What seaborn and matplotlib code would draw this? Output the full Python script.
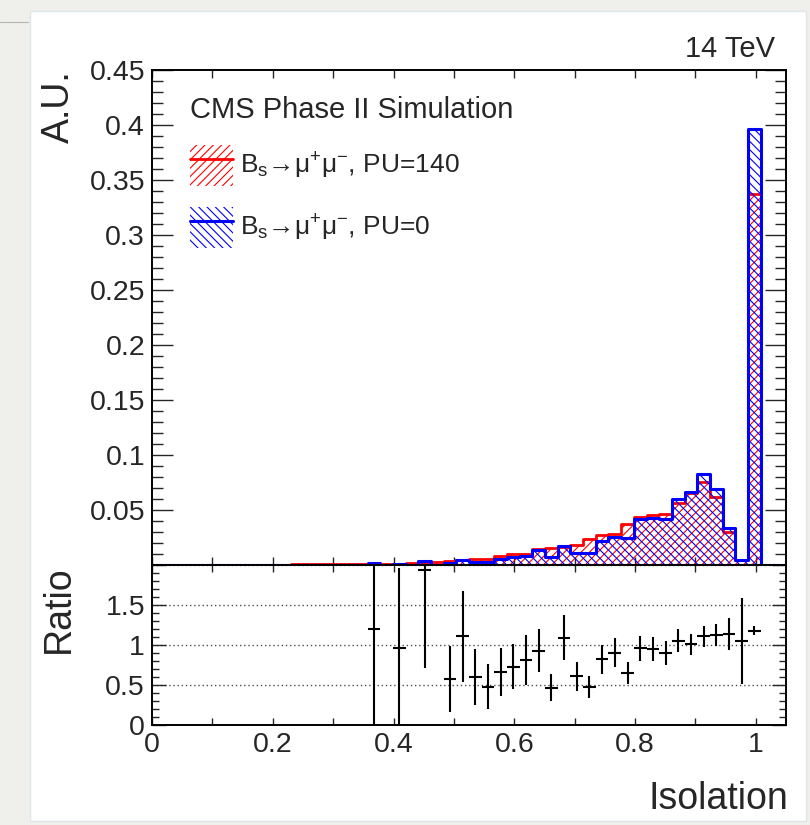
import numpy as np
import pandas as pd
import matplotlib
matplotlib.use("Agg")
import matplotlib.pyplot as plt
import seaborn as sns
from matplotlib.patches import Patch, Rectangle
from matplotlib.lines import Line2D
from matplotlib.legend_handler import HandlerTuple
from matplotlib.ticker import MultipleLocator, FuncFormatter

# ---------------- data ----------------
iso_min, iso_max, n_bins = 0.0, 1.05, 50          # 50 bins of 0.021 in Isolation

# PU = 140 (red), normalised (A.U.)
pu140 = [0.0001, 0.0001, 0.0001, 0.0002, 0.0002,
         0.0003, 0.0004, 0.0003, 0.0003, 0.0004,
         0.0004, 0.0005, 0.0006, 0.0006, 0.0007,
         0.0007, 0.0008, 0.0012, 0.0009, 0.0012,
         0.0015, 0.0017, 0.0027, 0.0037, 0.0043,
         0.0052, 0.0058, 0.0079, 0.0097, 0.0097,
         0.0143, 0.0155, 0.0162, 0.0186, 0.0240,
         0.0271, 0.0286, 0.0377, 0.0438, 0.0454,
         0.0460, 0.0566, 0.0656, 0.0758, 0.0620,
         0.0300, 0.0041, 0.3377, 0.0, 0.0]

# PU = 0 (blue)
pu0 = [0.0, 0.0, 0.0, 0.0, 0.0,
       0.0, 0.0, 0.0, 0.0, 0.0,
       0.0, 0.0, 0.0, 0.0, 0.0,
       0.0, 0.0, 0.0015, 0.0, 0.0011,
       0.0, 0.0033, 0.0, 0.0022, 0.0047,
       0.0031, 0.0028, 0.0053, 0.0071, 0.0079,
       0.0133, 0.0073, 0.0175, 0.0113, 0.0113,
       0.0222, 0.0255, 0.0248, 0.0415, 0.0425,
       0.0415, 0.0597, 0.0660, 0.0830, 0.0695,
       0.0340, 0.0043, 0.3964, 0.0, 0.0]

# ratio panel (PU0 / PU140): bin index, value, error
ratio_bins = [17, 19, 21, 23, 24, 25, 26, 27, 28, 29, 30, 31, 32, 33,
              34, 35, 36, 37, 38, 39, 40, 41, 42, 43, 44, 45, 46, 47]
ratio_vals = [1.205, 0.966, 1.94, 0.573, 1.107, 0.594, 0.479, 0.667, 0.731,
              0.816, 0.927, 0.466, 1.09, 0.607, 0.474, 0.82, 0.906, 0.65,
              0.957, 0.944, 0.906, 1.056, 1.009, 1.107, 1.128, 1.141, 1.051,
              1.179]
ratio_errs = [1.30, 1.00, 1.23, 0.41, 0.57, 0.35, 0.28, 0.30, 0.28,
              0.31, 0.27, 0.17, 0.28, 0.18, 0.14, 0.18, 0.18, 0.14,
              0.16, 0.15, 0.15, 0.14, 0.13, 0.13, 0.14, 0.20, 0.54,
              0.06]

labels = [r"B$_{\mathregular{s}}$→μ$^{\mathregular{+}}$μ$^{\mathregular{-}}$, PU=140",
          r"B$_{\mathregular{s}}$→μ$^{\mathregular{+}}$μ$^{\mathregular{-}}$, PU=0"]

# ---------------- style ----------------
sns.set_theme(style="ticks")
plt.rcParams.update({
    "font.family": ["Liberation Sans", "DejaVu Sans"],
    "mathtext.fontset": "custom",
    "mathtext.rm": "Liberation Sans",
    "mathtext.it": "Liberation Sans:italic",
    "hatch.linewidth": 0.8,
    "axes.linewidth": 1.4,
    "axes.edgecolor": "black",
})

HATCH_RED = "////"
HATCH_BLUE = "\\\\\\\\"

W, H = 810, 825
fig = plt.figure(figsize=(W / 100, H / 100), dpi=100)
fig.patch.set_facecolor("#efefec")
fig.patches.append(Rectangle((30 / W, 4 / H), 776 / W, 810 / H, transform=fig.transFigure,
                             facecolor="white", edgecolor="#dfe5e8", lw=1, zorder=-10))
fig.lines.append(Line2D([0, 28 / W], [1 - 22 / H, 1 - 22 / H], transform=fig.transFigure,
                        color="#b5b5b0", lw=0.8))

ax = fig.add_axes([152 / W, 1 - 565 / H, 634 / W, 495 / H])
ax2 = fig.add_axes([152 / W, 1 - 725 / H, 634 / W, 160 / H], sharex=ax)
for a in (ax, ax2):
    a.set_facecolor("white")

bin_edges = np.linspace(iso_min, iso_max, n_bins + 1)
centers = 0.5 * (bin_edges[:-1] + bin_edges[1:])
width = bin_edges[1] - bin_edges[0]
df = pd.DataFrame({"iso": centers, "pu140": pu140, "pu0": pu0})

# ---------------- histograms ----------------
sns.histplot(data=df, x="iso", weights="pu140", bins=n_bins, binrange=(iso_min, iso_max),
             element="step", fill=True, color="red", facecolor="none",
             edgecolor="red", hatch=HATCH_RED, linewidth=2.0, ax=ax)
sns.histplot(data=df, x="iso", weights="pu0", bins=n_bins, binrange=(iso_min, iso_max),
             element="step", fill=True, color="blue", facecolor="none",
             edgecolor="blue", hatch=HATCH_BLUE, linewidth=2.2, ax=ax)

ax.set_xlim(iso_min, iso_max)
ax.set_ylim(0, 0.45)
ax.set_xlabel("")
ax.set_ylabel("A.U.", loc="top", fontsize=27)
ax.yaxis.set_label_coords(-0.118, 1.0)

fmt = FuncFormatter(lambda v, p: f"{v:g}")
ax.yaxis.set_major_locator(MultipleLocator(0.05))
ax.yaxis.set_minor_locator(MultipleLocator(0.01))
ax.yaxis.set_major_formatter(FuncFormatter(lambda v, p: "" if v < 1e-6 else f"{v:g}"))
ax.xaxis.set_major_locator(MultipleLocator(0.2))
ax.xaxis.set_minor_locator(MultipleLocator(0.1))
ax.tick_params(axis="x", which="both", direction="in", top=True, bottom=True,
               length=6, width=1, labelbottom=False)
ax.tick_params(axis="y", which="major", direction="in", left=True, right=True,
               length=15, width=1, labelsize=20.5, pad=5)
ax.tick_params(axis="y", which="minor", direction="in", left=True, right=True,
               length=8, width=1)

# texts
ax.text(0.0599, 0.9024, "CMS Phase II Simulation", transform=ax.transAxes,
        ha="left", va="baseline", fontsize=21)
fig.text(775 / W, 1 - 57 / H, "14 TeV", ha="right", va="baseline", fontsize=21)

# legend
h_red = (Patch(facecolor="none", edgecolor="red", hatch=HATCH_RED, linewidth=0),
         Line2D([], [], color="red", lw=2.0))
h_blue = (Patch(facecolor="none", edgecolor="blue", hatch=HATCH_BLUE, linewidth=0),
          Line2D([], [], color="blue", lw=2.2))
ax.legend([h_red, h_blue], labels, handler_map={tuple: HandlerTuple(ndivide=1)},
          loc="upper left", bbox_to_anchor=(0.0599, 0.8485), frameon=False,
          borderpad=0, borderaxespad=0, fontsize=19, handlelength=1.63,
          handleheight=2.0, labelspacing=0.8, handletextpad=0.25)

# ---------------- ratio panel ----------------
rx = centers[ratio_bins]
ax2.errorbar(rx, ratio_vals, xerr=width / 2, yerr=ratio_errs, fmt="none",
             ecolor="black", elinewidth=1.5, capsize=0)
ax2.set_ylim(0, 2)
ax2.set_xlim(iso_min, iso_max)
ax2.yaxis.set_major_locator(MultipleLocator(0.5))
ax2.yaxis.set_minor_locator(MultipleLocator(0.1))
ax2.yaxis.set_major_formatter(FuncFormatter(lambda v, p: "" if v > 1.9 else f"{v:g}"))
ax2.xaxis.set_major_formatter(fmt)
ax2.grid(axis="y", which="major", linestyle=(0, (1, 2)), color="0.3", lw=1)
ax2.tick_params(axis="x", which="both", direction="in", top=True, bottom=True,
                length=5, width=1, labelsize=20.5, pad=5)
ax2.tick_params(axis="y", which="major", direction="in", left=True, right=True,
                length=10, width=1, labelsize=20.5, pad=5)
ax2.tick_params(axis="y", which="minor", direction="in", left=True, right=True,
                length=5, width=1)
ax2.set_ylabel("Ratio", loc="top", fontsize=27)
ax2.yaxis.set_label_coords(-0.118, 1.0)
ax2.set_xlabel("Isolation", loc="right", fontsize=27)
ax2.xaxis.set_label_coords(1.003, -0.35)

fig.savefig("out.png", dpi=100, facecolor=fig.get_facecolor())
